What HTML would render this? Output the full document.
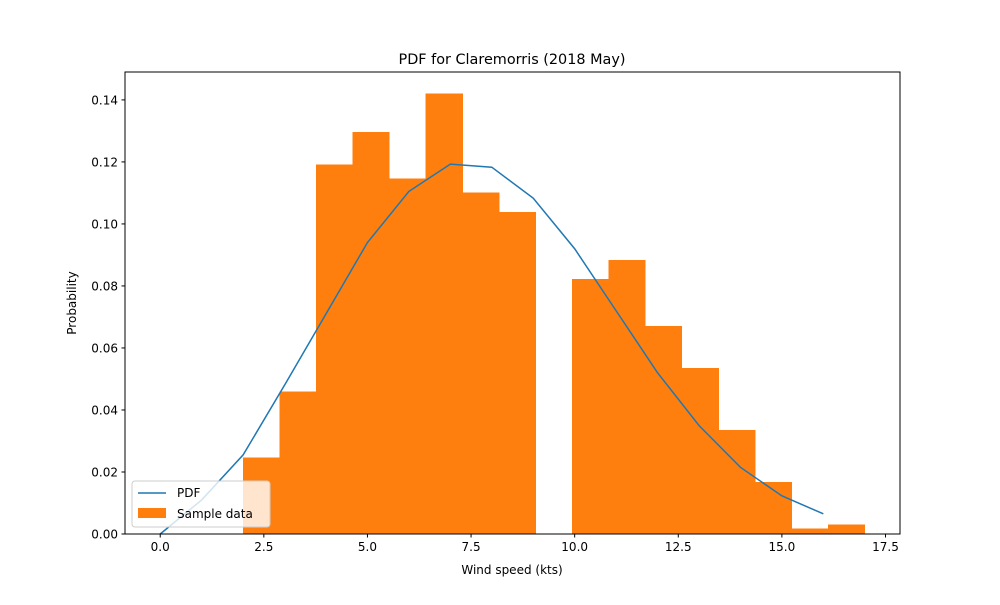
<!DOCTYPE html>
<html><head><meta charset="utf-8"><style>body{margin:0;background:#fff}svg text{font-family:"DejaVu Sans","Liberation Sans",sans-serif}</style></head>
<body>
<svg id="chart" width="1000" height="600" xmlns="http://www.w3.org/2000/svg">
<rect width="1000" height="600" fill="#fff"/>
<g id="bars"></g>
<g id="line"></g>
<rect x="125" y="72" width="775" height="462" fill="none" stroke="#000" stroke-width="1"/>
<g id="xticks"></g>
<g id="yticks"></g>
<text x="512" y="64" text-anchor="middle" font-size="14.4">PDF for Claremorris (2018 May)</text>
<text x="512" y="574" text-anchor="middle" font-size="12">Wind speed (kts)</text>
<text transform="translate(76,303) rotate(-90)" text-anchor="middle" font-size="12">Probability</text>
<g>
<rect x="132" y="481" width="138" height="46" rx="3" fill="#fff" fill-opacity="0.8" stroke="#ccc"/>
<line x1="138" y1="493" x2="166" y2="493" stroke="#1f77b4" stroke-width="1.5"/>
<text x="177" y="497" font-size="12">PDF</text>
<rect x="138" y="508" width="28" height="10" fill="#ff7f0e"/>
<text x="177" y="518" font-size="12">Sample data</text>
</g>
</svg>
<script>
const binStart = 2, binEnd = 17;
const histValues = [0.0245,0.0458,0.119,0.1295,0.1145,0.142,0.110,0.1037,0,0.0822,0.0882,0.067,0.0535,0.0335,0.0167,0.0017,0.003];
const pdfX = [0,1,2,3,4,5,6,7,8,9,10,11,12,13,14,15,16];
const pdfY = [0,0.011,0.0255,0.048,0.071,0.094,0.1105,0.1193,0.1183,0.1083,0.092,0.072,0.052,0.035,0.0215,0.0123,0.0065];
const xTicks = [0,2.5,5,7.5,10,12.5,15,17.5];
const yTicks = [0,0.02,0.04,0.06,0.08,0.10,0.12,0.14];
const NS="http://www.w3.org/2000/svg";
const xmin=-0.85,xmax=17.85,ymin=0,ymax=0.149;
const X=v=>125+(v-xmin)/(xmax-xmin)*775;
const Y=v=>534-(v-ymin)/(ymax-ymin)*462;
function mk(t,a,p){const e=document.createElementNS(NS,t);for(const k in a)e.setAttribute(k,a[k]);p.appendChild(e);return e;}
const bw=(binEnd-binStart)/histValues.length;
const bg=document.getElementById('bars');
histValues.forEach((v,i)=>{const x0=X(binStart+i*bw),x1=X(binStart+(i+1)*bw);
if(v<=0)return;
const r=mk('rect',{x:x0,y:Y(v),width:x1-x0,height:Y(0)-Y(v),fill:'#ff7f0e',stroke:'#ff7f0e','stroke-width':0.6,'shape-rendering':'crispEdges'},bg);

});
const lg=document.getElementById('line');
const pl=mk('polyline',{points:pdfX.map((x,i)=>X(x)+','+Y(pdfY[i])).join(' '),fill:'none',stroke:'#1f77b4','stroke-width':1.5},lg);


const xg=document.getElementById('xticks');
xTicks.forEach(t=>{const x=X(t);mk('line',{x1:x,x2:x,y1:534,y2:537.5,stroke:'#000'},xg);
const tx=mk('text',{x:x,y:551,'text-anchor':'middle','font-size':12},xg);tx.textContent=t.toFixed(1);

});
const yg=document.getElementById('yticks');
yTicks.forEach(t=>{const y=Y(t);mk('line',{x1:121.5,x2:125,y1:y,y2:y,stroke:'#000'},yg);
const tx=mk('text',{x:118,y:y+4.5,'text-anchor':'end','font-size':12},yg);tx.textContent=t.toFixed(2);

});
</script>
</body></html>
